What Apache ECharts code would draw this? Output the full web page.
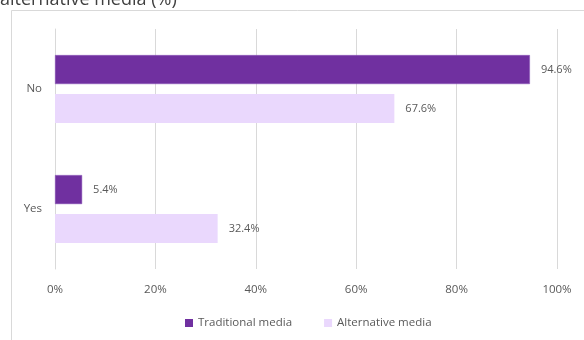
<!DOCTYPE html>
<html>
<head>
<meta charset="utf-8">
<script src="https://cdn.jsdelivr.net/npm/echarts@6/dist/echarts.min.js"></script>
<style>
  html, body { margin: 0; padding: 0; background: #fff; }
  #chart { width: 584px; height: 340px; }
</style>
</head>
<body>
<div id="chart"></div>
<script>
// Answer categories (top to bottom)
const categories = ['No', 'Yes'];
// Share of respondents, percent
const traditionalMedia = [94.6, 5.4];
const alternativeMedia = [67.6, 32.4];
const seriesNames = ['Traditional media', 'Alternative media'];
const xTicks = [0, 20, 40, 60, 80, 100];

const FONT = '"Open Sans", "Noto Sans", sans-serif';
const TEXT = '#595959';

const chart = echarts.init(document.getElementById('chart'), null, { renderer: 'canvas' });

const labelCfg = {
  show: true,
  position: 'right',
  distance: 11,
  color: TEXT,
  fontFamily: FONT,
  fontSize: 11,
  formatter: p => p.value.toFixed(1) + '%'
};

chart.setOption({
  animation: false,
  backgroundColor: '#fff',
  graphic: [
    {
      type: 'text',
      left: 0,
      top: -9,
      style: { text: 'alternative media (%)', fontSize: 18, fontFamily: FONT, fill: '#404040' }
    },
    {
      type: 'polyline',
      shape: { points: [[11.5, 340], [11.5, 10.5], [584, 10.5]] },
      style: { stroke: '#d9d9d9', lineWidth: 1, fill: null }
    }
  ],
  grid: { left: 55, right: 27, top: 29, bottom: 71, containLabel: false },
  legend: {
    bottom: 6,
    left: 180,
    itemWidth: 8,
    itemHeight: 8,
    itemGap: 32,
    icon: 'rect',
    itemStyle: { borderWidth: 0 },
    textStyle: { color: TEXT, fontFamily: FONT, fontSize: 11.5 },
    data: seriesNames
  },
  xAxis: {
    type: 'value',
    min: xTicks[0],
    max: xTicks[xTicks.length - 1],
    interval: 20,
    axisLine: { show: false },
    axisTick: { show: false },
    splitLine: { lineStyle: { color: '#d9d9d9' } },
    axisLabel: { color: TEXT, fontFamily: FONT, fontSize: 11.5, margin: 15, formatter: v => v + '%' }
  },
  yAxis: {
    type: 'category',
    inverse: true,
    data: categories,
    axisLine: { show: true, lineStyle: { color: '#d9d9d9' } },
    axisTick: { show: false },
    axisLabel: { color: TEXT, fontFamily: FONT, fontSize: 11.5, margin: 13 }
  },
  series: [
    {
      name: seriesNames[0],
      type: 'bar',
      data: traditionalMedia,
      barWidth: 29,
      barGap: '34%',
      itemStyle: { color: '#7030a0', borderColor: '#8a55b8', borderWidth: 0.5 },
      label: labelCfg
    },
    {
      name: seriesNames[1],
      type: 'bar',
      data: alternativeMedia,
      barWidth: 29,
      itemStyle: { color: '#ead8fd' },
      label: labelCfg
    }
  ]
});
</script>
</body>
</html>
